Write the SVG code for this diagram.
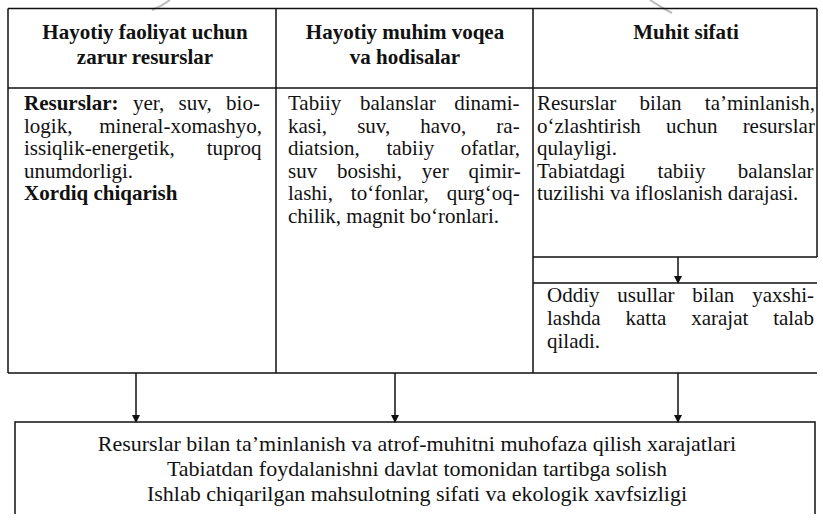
<svg xmlns="http://www.w3.org/2000/svg" width="823" height="521" viewBox="0 0 823 521">
<style>
  .ln{stroke:#111;stroke-width:1.5;fill:none}
  .t{font-family:"Liberation Serif","Times New Roman",serif;font-size:21px;fill:#111}
  .h{font-family:"Liberation Serif","Times New Roman",serif;font-size:21px;font-weight:bold;fill:#111;text-anchor:middle}
  .b{font-family:"Liberation Serif","Times New Roman",serif;font-size:22px;fill:#111;text-anchor:middle}
  .bold{font-weight:bold}
  .arr{stroke:#111;stroke-width:1.5;fill:none;marker-end:url(#ah)}
  .faint{stroke:#bbb;stroke-width:2;fill:none}
</style>
<defs>
  <marker id="ah" markerWidth="8" markerHeight="10" refX="7" refY="4" orient="auto" markerUnits="userSpaceOnUse">
    <path d="M0,0 L8,4 L0,8 z" fill="#111"/>
  </marker>
</defs>
<rect width="823" height="521" fill="#fff"/>
<g id="decor">
  <path class="faint" d="M170,0 Q162,6 152,10"/>
  <path class="faint" d="M650,0 Q660,7 672,13"/>
</g>
<g id="table">
  <path class="ln" d="M8,8.5 H817 M8,88 H817 M8,8.5 V373 M276,8.5 V373 M533,8.5 V373 M817,8.5 V257 M533,257 H817 M533,283 H817 M8,373 H817"/>
</g>
<g id="header-1">
  <text class="h" x="145" y="39">Hayotiy faoliyat uchun</text>
  <text class="h" x="145" y="64">zarur resurslar</text>
</g>
<g id="header-2">
  <text class="h" x="405" y="39">Hayotiy muhim voqea</text>
  <text class="h" x="405" y="64">va hodisalar</text>
</g>
<g id="header-3">
  <text class="h" x="686" y="39">Muhit sifati</text>
</g>
<g id="cell-resources">
  <text class="t" x="24" y="110" word-spacing="9.2"><tspan class="bold">Resurslar:</tspan> yer, suv, bio-</text>
  <text class="t" x="24" y="133" word-spacing="21.6">logik, mineral-xomashyo,</text>
  <text class="t" x="24" y="155" word-spacing="26.8">issiqlik-energetik, tuproq</text>
  <text class="t" x="24" y="178">unumdorligi.</text>
  <text class="t bold" x="24" y="200">Xordiq chiqarish</text>
</g>
<g id="cell-events">
  <text class="t" x="288" y="110" word-spacing="13.3">Tabiiy balanslar dinami-</text>
  <text class="t" x="288" y="133" word-spacing="24.8">kasi, suv, havo, ra-</text>
  <text class="t" x="288" y="155" word-spacing="21.4">diatsion, tabiiy ofatlar,</text>
  <text class="t" x="288" y="178" word-spacing="14.7">suv bosishi, yer qimir-</text>
  <text class="t" x="288" y="200" word-spacing="12.7">lashi, to‘fonlar, qurg‘oq-</text>
  <text class="t" x="288" y="223">chilik, magnit bo‘ronlari.</text>
</g>
<g id="cell-quality">
  <text class="t" x="537" y="110" word-spacing="18">Resurslar bilan ta’minlanish,</text>
  <text class="t" x="537" y="133" word-spacing="20">o‘zlashtirish uchun resurslar</text>
  <text class="t" x="537" y="155">qulayligi.</text>
  <text class="t" x="537" y="178" word-spacing="27">Tabiatdagi tabiiy balanslar</text>
  <text class="t" x="537" y="200">tuzilishi va ifloslanish darajasi.</text>
</g>
<g id="cell-cost">
  <text class="t" x="547" y="302" word-spacing="12.6">Oddiy usullar bilan yaxshi-</text>
  <text class="t" x="547" y="325" word-spacing="19.6">lashda katta xarajat talab</text>
  <text class="t" x="547" y="348">qiladi.</text>
</g>
<g id="result">
  <path class="ln" d="M15,514 V422 H815 V514"/>
  <text class="b" x="417" y="451">Resurslar bilan ta’minlanish va atrof-muhitni muhofaza qilish xarajatlari</text>
  <text class="b" x="417" y="476">Tabiatdan foydalanishni davlat tomonidan tartibga solish</text>
  <text class="b" x="417" y="501">Ishlab chiqarilgan mahsulotning sifati va ekologik xavfsizligi</text>
</g>
<g id="connectors">
  <line class="arr" x1="678" y1="257" x2="678" y2="283"/>
  <line class="arr" x1="136" y1="373" x2="136" y2="422"/>
  <line class="arr" x1="395" y1="373" x2="395" y2="422"/>
  <line class="arr" x1="678" y1="373" x2="678" y2="422"/>
</g>
</svg>
